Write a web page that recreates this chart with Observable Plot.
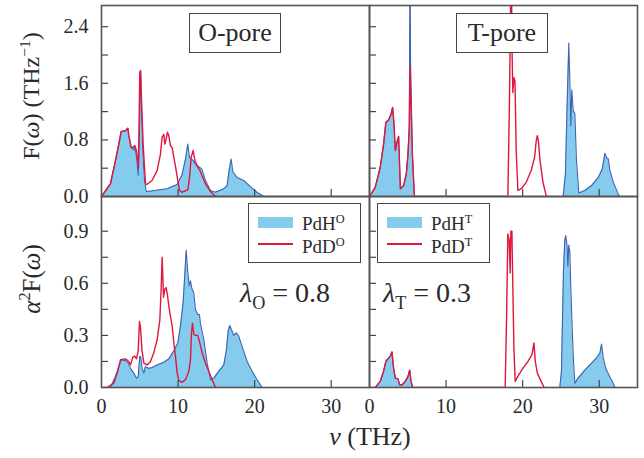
<!DOCTYPE html>
<html><head><meta charset="utf-8">
<script src="https://cdn.jsdelivr.net/npm/d3@7"></script>
<script src="https://cdn.jsdelivr.net/npm/@observablehq/plot@0.6"></script>
<style>
body{margin:0;background:#fff;}
#fig{position:relative;width:644px;height:458px;overflow:hidden;font-family:"Liberation Serif",serif;color:#2a2a2a;}
.pl{position:absolute;}
.pl svg{overflow:visible;}
.ov{position:absolute;white-space:nowrap;line-height:1;}
.box{position:absolute;border:1.5px solid #444;background:#fff;box-sizing:border-box;}
.title{display:flex;align-items:center;justify-content:center;font-size:26px;}
.leg{font-size:19px;}
.sw{position:absolute;}
sup,sub{font-size:65%;line-height:0;}
</style></head><body><div id="fig"></div>
<script>
// ---- data: [frequency THz, value] ----
const oporeF_H = [[0,0],[1.17,0.18],[1.83,0.51],[2.26,0.74],[2.57,0.92],[3.13,0.93],[3.44,0.965],[3.57,0.86],[3.87,0.69],[4.22,0.66],[4.35,0.70],[4.57,0.555],[4.79,0.30],[4.95,0.9],[5.05,1.7],[5.12,1.74],[5.22,1.2],[5.4,0.6],[5.6,0.25],[5.83,0.085],[5.9,0.07],[7.0,0.085],[8.57,0.11],[9.88,0.17],[10.5,0.30],[10.97,0.53],[11.27,0.74],[11.5,0.55],[11.97,0.51],[12.27,0.46],[12.7,0.42],[13.1,0.39],[13.58,0.226],[14.23,0.085],[14.88,0.06],[15.97,0.11],[16.4,0.155],[16.67,0.37],[16.93,0.53],[17.15,0.35],[17.7,0.27],[18.58,0.226],[19.45,0.14],[20.3,0.06],[21.2,0],[35,0]];
const oporeF_D = [[0,0],[1.17,0.18],[1.83,0.51],[2.26,0.74],[2.57,0.92],[3.13,0.93],[3.44,0.965],[3.57,0.86],[3.87,0.7],[4.09,0.69],[4.35,0.72],[4.57,0.65],[4.83,0.41],[5.0,1.76],[5.1,1.78],[5.2,1.45],[5.44,0.74],[5.74,0.18],[5.9,0.17],[6.6,0.226],[7.27,0.37],[7.7,0.6],[7.92,0.84],[8.14,0.88],[8.27,0.74],[8.44,0.81],[8.62,0.91],[8.79,0.86],[9.0,0.72],[9.23,0.69],[9.44,0.555],[9.75,0.37],[9.97,0.226],[10.18,0.085],[10.5,0.06],[11.27,0.095],[11.5,0.27],[11.71,0.555],[11.97,0.65],[12.2,0.51],[12.49,0.43],[12.84,0.37],[13.1,0.30],[13.58,0.18],[14.23,0.07],[14.88,0]];
const tporeF_H = [[0,0],[0.75,0.13],[1.4,0.41],[1.84,0.74],[2.14,1.05],[2.5,1.08],[2.84,1.17],[3.02,1.26],[3.2,1.02],[3.37,0.65],[3.59,0.77],[3.8,0.85],[3.94,0.41],[4.03,0.11],[4.46,0.155],[4.81,0.32],[5.03,0.6],[5.2,0.98],[5.29,3.5],[5.36,1.9],[5.6,0.6],[5.86,0],[25.29,0],[25.59,0.32],[25.77,1.12],[25.94,1.83],[26.03,2.17],[26.16,1.65],[26.29,1.0],[26.42,1.51],[26.6,1.22],[26.82,1.17],[27.03,0.51],[27.34,0.05],[28.12,0.085],[29.0,0.155],[29.88,0.27],[30.4,0.39],[30.75,0.61],[30.97,0.55],[31.19,0.53],[31.4,0.37],[31.85,0.2],[32.5,0.03],[32.7,0],[35,0]];
const tporeF_D = [[0,0],[0.75,0.13],[1.4,0.41],[1.84,0.74],[2.14,1.05],[2.5,1.08],[2.84,1.17],[3.02,1.26],[3.2,1.02],[3.37,0.65],[3.59,0.77],[3.8,0.85],[3.94,0.41],[4.03,0.11],[4.46,0.155],[4.81,0.32],[5.03,0.6],[5.2,0.98],[5.3,1.83],[5.6,0.6],[5.86,0],[18.07,0],[18.28,1.36],[18.37,2.2],[18.45,3.0],[18.55,3.0],[18.6,2.15],[18.72,1.47],[18.86,1.68],[19.0,1.63],[19.16,0.65],[19.38,0.085],[19.82,0.11],[20.47,0.2],[21.13,0.37],[21.56,0.555],[21.78,0.79],[21.92,0.86],[22.05,0.79],[22.27,0.51],[22.66,0.2],[23.1,0]];
const oporeA_H = [[0,0],[1.17,0],[1.83,0.064],[2.26,0.12],[2.57,0.16],[3.13,0.155],[3.44,0.145],[3.79,0.11],[4.22,0.083],[4.57,0.054],[4.79,0.06],[5.0,0.18],[5.13,0.175],[5.31,0.11],[5.53,0.083],[5.74,0.12],[6.18,0.11],[6.62,0.115],[7.27,0.13],[8.14,0.145],[8.79,0.165],[9.44,0.21],[9.97,0.257],[10.31,0.353],[10.66,0.49],[10.84,0.62],[11.06,0.79],[11.27,0.665],[11.45,0.585],[11.62,0.614],[11.8,0.57],[12.05,0.546],[12.27,0.45],[12.57,0.42],[12.79,0.42],[12.92,0.37],[13.36,0.276],[13.8,0.14],[14.23,0.045],[14.66,0.054],[15.31,0.093],[15.97,0.13],[16.32,0.218],[16.54,0.324],[16.75,0.357],[17.06,0.324],[17.27,0.3],[17.62,0.315],[17.92,0.295],[18.36,0.237],[19.02,0.15],[19.67,0.093],[20.32,0.045],[20.98,0],[35,0]];
const oporeA_D = [[0,0],[0.74,0],[1.6,0.025],[2.05,0.083],[2.48,0.16],[3.13,0.165],[3.57,0.15],[3.79,0.13],[4.09,0.175],[4.35,0.18],[4.57,0.165],[4.79,0.21],[4.96,0.38],[5.09,0.345],[5.27,0.22],[5.53,0.14],[5.96,0.13],[6.4,0.15],[6.83,0.2],[7.27,0.276],[7.62,0.39],[7.79,0.566],[7.92,0.75],[8.1,0.52],[8.27,0.566],[8.44,0.575],[8.62,0.53],[8.79,0.47],[9.0,0.41],[9.23,0.353],[9.44,0.26],[9.66,0.18],[9.88,0.083],[10.1,0.04],[10.5,0.03],[10.97,0.045],[11.4,0.093],[11.62,0.16],[11.75,0.315],[11.88,0.37],[12.05,0.306],[12.27,0.3],[12.57,0.3],[12.84,0.257],[13.14,0.2],[13.58,0.14],[14.01,0.093],[14.45,0.045],[14.88,0]];
const tporeA_H = [[0,0],[0.75,0],[1.4,0.035],[1.84,0.093],[2.14,0.15],[2.4,0.165],[2.71,0.18],[2.93,0.205],[3.15,0.11],[3.37,0.054],[3.72,0.05],[3.94,0.015],[4.24,0.015],[4.68,0.035],[5.03,0.064],[5.25,0.1],[5.42,0.035],[5.64,0],[24.85,0],[25.07,0.093],[25.2,0.38],[25.33,0.67],[25.5,0.846],[25.63,0.875],[25.82,0.81],[25.9,0.7],[26.03,0.82],[26.16,0.784],[26.29,0.575],[26.47,0.344],[26.64,0.15],[26.82,0.025],[27.25,0.054],[28.12,0.1],[29.0,0.14],[29.66,0.17],[30.1,0.2],[30.31,0.25],[30.53,0.17],[30.84,0.112],[31.28,0.07],[31.72,0.035],[32.06,0],[35,0]];
const tporeA_D = [[0,0],[0.75,0],[1.4,0.035],[1.84,0.093],[2.14,0.15],[2.4,0.165],[2.71,0.18],[2.93,0.205],[3.15,0.11],[3.37,0.054],[3.72,0.05],[3.94,0.015],[4.24,0.015],[4.68,0.035],[5.03,0.064],[5.25,0.1],[5.42,0.035],[5.64,0],[17.72,0],[17.89,0.38],[18.07,0.885],[18.24,0.85],[18.37,0.66],[18.46,0.9],[18.6,0.9],[18.72,0.575],[18.86,0.228],[19.03,0.035],[19.38,0.064],[20.04,0.112],[20.7,0.15],[21.22,0.19],[21.48,0.257],[21.65,0.15],[21.92,0.083],[22.22,0.054],[22.53,0.025],[22.8,0]];

const xDomain = [0, 35];
const xTicks = [10, 20, 30];
const xTickLabels = [0, 10, 20, 30];
const fDomain = [0, 2.7];
const fTicks = [0.4, 0.8, 1.2, 1.6, 2.0, 2.4];
const fTickLabels = [0, 0.8, 1.6, 2.4];
const aDomain = [0, 1.1];
const aTicks = [0.15, 0.3, 0.45, 0.6, 0.75, 0.9];
const aTickLabels = [0, 0.3, 0.6, 0.9];

const BLUE_FILL = "#85cbee", BLUE_LINE = "#3d62b3", RED = "#e0173c", FRAME = "#555";

function panel({H, D, yDomain, yTicks, yLabels, xLabels, width, height, mt, mb, ml, mr}) {
  const X = d => d[0], Y = d => d[1];
  const marks = [
    Plot.areaY(H, {x: X, y: Y, fill: BLUE_FILL, clip: true}),
    Plot.lineY(H, {x: X, y: Y, stroke: BLUE_LINE, strokeWidth: 1.1, clip: true}),
    Plot.lineY(D, {x: X, y: Y, stroke: RED, strokeWidth: 1.4, clip: true}),
    Plot.axisY(yTicks, {anchor: "left", tickSize: -7, tickFormat: () => "", label: null, stroke: "#444", strokeWidth: 1.2}),
    Plot.axisX(xTicks, {anchor: "bottom", tickSize: -7, tickFormat: () => "", label: null, stroke: "#444", strokeWidth: 1.2}),
    Plot.frame({stroke: FRAME, strokeWidth: 1.6})
  ];
  if (yLabels) marks.push(Plot.axisY(yLabels, {anchor: "left", tickSize: 0, tickPadding: 13, tickFormat: d => d.toFixed(1), label: null, fontSize: 20, fill: "#2a2a2a"}));
  if (xLabels) marks.push(Plot.axisX(xLabels, {anchor: "bottom", tickSize: 0, tickPadding: 11, tickFormat: d => String(d), label: null, fontSize: 20, fill: "#2a2a2a"}));
  return Plot.plot({
    width, height, marginTop: mt, marginBottom: mb, marginLeft: ml, marginRight: mr,
    x: {domain: xDomain}, y: {domain: yDomain},
    style: {background: "transparent", fontFamily: "Liberation Serif, serif", overflow: "visible"},
    marks
  });
}

const fig = document.getElementById("fig");
function place(el, left, top) {
  const d = document.createElement("div");
  d.className = "pl"; d.style.left = left + "px"; d.style.top = top + "px";
  d.appendChild(el); fig.appendChild(d);
}
function html(h) { fig.insertAdjacentHTML("beforeend", h); }

place(panel({H: oporeF_H, D: oporeF_D, yDomain: fDomain, yTicks: fTicks, yLabels: fTickLabels, xLabels: null, width: 369, height: 196, mt: 5, mb: 0, ml: 101, mr: 0}), 0, 0);
place(panel({H: tporeF_H, D: tporeF_D, yDomain: fDomain, yTicks: fTicks, yLabels: null, xLabels: null, width: 275, height: 196, mt: 5, mb: 0, ml: 0, mr: 7}), 369, 0);
place(panel({H: oporeA_H, D: oporeA_D, yDomain: aDomain, yTicks: aTicks, yLabels: aTickLabels, xLabels: xTickLabels, width: 369, height: 262, mt: 0, mb: 71, ml: 101, mr: 0}), 0, 196);
place(panel({H: tporeA_H, D: tporeA_D, yDomain: aDomain, yTicks: aTicks, yLabels: null, xLabels: xTickLabels, width: 275, height: 262, mt: 0, mb: 71, ml: 0, mr: 7}), 369, 196);

// titles
html(`<div class="box title" style="left:189px;top:13px;width:92px;height:40px;">O-pore</div>`);
html(`<div class="box title" style="left:456px;top:13px;width:92px;height:40px;">T-pore</div>`);
// legends
function legend(left, sup) {
  html(`<div class="box leg" style="left:${left}px;top:203px;width:113px;height:60px;">
    <div class="sw" style="left:9px;top:13px;width:35px;height:11px;background:${BLUE_FILL}"></div>
    <div class="ov" style="left:53px;top:10px;">PdH<sup>${sup}</sup></div>
    <div class="sw" style="left:9px;top:39px;width:35px;height:2px;background:${RED}"></div>
    <div class="ov" style="left:53px;top:33px;">PdD<sup>${sup}</sup></div>
  </div>`);
}
legend(248, "O");
legend(377, "T");
// lambda annotations
html(`<div class="ov" style="left:240px;top:279px;font-size:28px;"><i>λ</i><sub>O</sub> = 0.8</div>`);
html(`<div class="ov" style="left:383px;top:279px;font-size:28px;"><i>λ</i><sub>T</sub> = 0.3</div>`);
// axis labels
html(`<div class="ov" style="left:31px;top:96px;font-size:24px;transform:translate(-50%,-50%) rotate(-90deg);">F(<i>ω</i>) (THz<sup>−1</sup>)</div>`);
html(`<div class="ov" style="left:31px;top:279px;font-size:25px;transform:translate(-50%,-50%) rotate(-90deg);"><i>α</i><sup>2</sup>F(<i>ω</i>)</div>`);
html(`<div class="ov" style="left:370px;top:437px;font-size:26px;transform:translate(-50%,-50%);"><i>ν</i> (THz)</div>`);
</script></body></html>
